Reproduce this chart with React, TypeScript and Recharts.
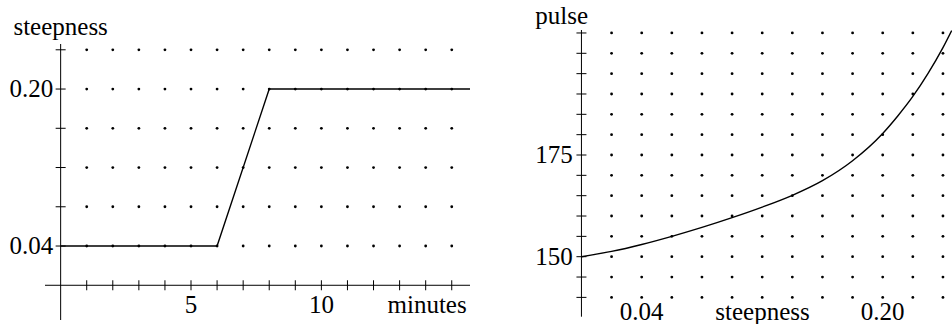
import React from 'react';
import { ComposedChart, Line, Scatter, XAxis, YAxis, ReferenceLine } from 'recharts';

// ---------- Left chart data: steepness vs minutes ----------
const minutes = [0, 6, 8, 15.7];
const steepnessOverTime = [0.04, 0.04, 0.2, 0.2];
const leftXTicks = [5, 10];
const leftXTickLabels = ['5', '10'];
const leftYTicks = [0.04, 0.2];
const leftYTickLabels = ['0.04', '0.20'];
const leftXMarks = [1, 2, 3, 4, 5, 6, 7, 8, 9, 10, 11, 12, 13, 14, 15];
const leftYMarks = [0.04, 0.08, 0.12, 0.16, 0.2, 0.24];
const leftXDomain = [-0.6, 15.7];
const leftYDomain = [-0.0354, 0.2459];

// ---------- Right chart data: pulse vs steepness ----------
const steepness = [0, 0.02, 0.04, 0.06, 0.08, 0.1, 0.12, 0.14, 0.16, 0.18, 0.2, 0.21, 0.22, 0.23, 0.24, 0.2458];
const pulse = [150, 151.3, 153.0, 155.0, 157.2, 159.6, 162.2, 165.1, 168.7, 173.6, 180.3, 184.6, 189.4, 195.0, 201.4, 205.6];
const rightXTicks = [0.04, 0.2];
const rightXTickLabels = ['0.04', '0.20'];
const rightYTicks = [150, 175];
const rightYTickLabels = ['150', '175'];
const rightXMarks = [0.02, 0.04, 0.06, 0.08, 0.1, 0.12, 0.14, 0.16, 0.18, 0.2, 0.22, 0.24];
const rightYMarks = [140, 145, 150, 155, 160, 165, 170, 175, 180, 185, 190, 195, 200, 205];
const rightXDomain = [0, 0.246];
const rightYDomain = [135.25, 205.73];

// ---------- derived tables ----------
const leftLine = minutes.map((m, i) => ({ x: m, y: steepnessOverTime[i] }));
const leftDots = leftXMarks.flatMap((x) => leftYMarks.map((y) => ({ x, y })));
const leftXTickMarks = leftXMarks.map((x) => ({ x, y: 0 }));
const leftYTickMarks = leftYMarks.map((y) => ({ x: 0, y }));

const rightLine = steepness.map((s, i) => ({ x: s, y: pulse[i] }));
const rightDots = rightXMarks.flatMap((x) => rightYMarks.map((y) => ({ x, y })));
const rightYTickMarks = rightYMarks.map((y) => ({ x: 0, y }));

const FONT = '"Liberation Serif", "Times New Roman", serif';
const FS = 25;
const INK = '#000';

const DotShape = (p: any) => <circle cx={p.cx} cy={p.cy} r={1.4} fill={INK} />;
const HMark = (p: any) => (
  <line x1={p.cx - 5} x2={p.cx + 5} y1={p.cy} y2={p.cy} stroke={INK} strokeWidth={1} />
);
const VMark = (p: any) => (
  <line x1={p.cx} x2={p.cx} y1={p.cy - 5} y2={p.cy + 5} stroke={INK} strokeWidth={1} />
);

const makeXTick = (ticks: number[], labels: string[], dy: number) => (p: any) => {
  const i = ticks.findIndex((t) => Math.abs(t - p.payload.value) < 1e-9);
  return (
    <text x={p.x} y={p.y + dy} textAnchor="middle" fontFamily={FONT} fontSize={FS} fill={INK}>
      {i >= 0 ? labels[i] : ''}
    </text>
  );
};
const makeYTick = (ticks: number[], labels: string[], dx: number) => (p: any) => {
  const i = ticks.findIndex((t) => Math.abs(t - p.payload.value) < 1e-9);
  return (
    <text x={p.x + dx} y={p.y + 8} textAnchor="end" fontFamily={FONT} fontSize={FS} fill={INK}>
      {i >= 0 ? labels[i] : ''}
    </text>
  );
};

function LeftChart() {
  return (
    <ComposedChart width={480} height={324} margin={{ top: 44, right: 10, bottom: 3, left: 44 }}>
      <XAxis
        type="number"
        dataKey="x"
        domain={leftXDomain}
        ticks={leftXTicks}
        height={1}
        axisLine={false}
        tickLine={false}
        tickSize={0}
        tickMargin={0}
        interval={0}
        tick={makeXTick(leftXTicks, leftXTickLabels, -7)}
      />
      <YAxis
        type="number"
        dataKey="y"
        domain={leftYDomain}
        ticks={leftYTicks}
        width={1}
        axisLine={false}
        tickLine={false}
        tickSize={0}
        tickMargin={0}
        interval={0}
        tick={makeYTick(leftYTicks, leftYTickLabels, 8.3)}
      />
      <ReferenceLine
        y={0}
        stroke={INK}
        strokeWidth={1}
        label={{
          content: (p: any) => (
            <text
              x={p.viewBox.x + p.viewBox.width - 3.3}
              y={p.viewBox.y + 28}
              textAnchor="end"
              fontFamily={FONT}
              fontSize={FS}
              fill={INK}
            >
              minutes
            </text>
          ),
        }}
      />
      <ReferenceLine
        x={0}
        stroke={INK}
        strokeWidth={1}
        label={{
          content: (p: any) => (
            <text x={p.viewBox.x} y={p.viewBox.y - 9} textAnchor="middle" fontFamily={FONT} fontSize={FS} fill={INK}>
              steepness
            </text>
          ),
        }}
      />
      <Scatter data={leftDots} shape={DotShape} isAnimationActive={false} />
      <Scatter data={leftXTickMarks} shape={VMark} isAnimationActive={false} />
      <Scatter data={leftYTickMarks} shape={HMark} isAnimationActive={false} />
      <Line
        data={leftLine}
        dataKey="y"
        type="linear"
        stroke={INK}
        strokeWidth={1.4}
        dot={false}
        activeDot={false}
        isAnimationActive={false}
      />
    </ComposedChart>
  );
}

function RightChart() {
  return (
    <ComposedChart width={472} height={324} margin={{ top: 30, right: 0, bottom: 6.3, left: 100.45 }}>
      <XAxis
        type="number"
        dataKey="x"
        domain={rightXDomain}
        ticks={rightXTicks}
        height={1}
        axisLine={false}
        tickLine={false}
        tickSize={0}
        tickMargin={0}
        interval={0}
        tick={makeXTick(rightXTicks, rightXTickLabels, 2.8)}
        label={{
          content: (p: any) => (
            <text
              x={p.viewBox.x + p.viewBox.width * 0.4886}
              y={p.viewBox.y + 2.8}
              textAnchor="middle"
              fontFamily={FONT}
              fontSize={FS}
              fill={INK}
            >
              steepness
            </text>
          ),
        }}
      />
      <YAxis
        type="number"
        dataKey="y"
        domain={rightYDomain}
        ticks={rightYTicks}
        width={1}
        axisLine={false}
        tickLine={false}
        tickSize={0}
        tickMargin={0}
        interval={0}
        tick={makeYTick(rightYTicks, rightYTickLabels, -8.7)}
      />
      <ReferenceLine
        x={0}
        stroke={INK}
        strokeWidth={1}
        label={{
          content: (p: any) => (
            <text x={p.viewBox.x - 19.7} y={p.viewBox.y - 6} textAnchor="middle" fontFamily={FONT} fontSize={FS} fill={INK}>
              pulse
            </text>
          ),
        }}
      />
      <Scatter data={rightDots} shape={DotShape} isAnimationActive={false} />
      <Scatter data={rightYTickMarks} shape={HMark} isAnimationActive={false} />
      <Line
        data={rightLine}
        dataKey="y"
        type="monotone"
        stroke={INK}
        strokeWidth={1.4}
        dot={false}
        activeDot={false}
        isAnimationActive={false}
      />
    </ComposedChart>
  );
}

export default function App() {
  return (
    <div style={{ position: 'absolute', left: 0, top: 0, width: 952, height: 324, background: '#fff', overflow: 'hidden' }}>
      <div style={{ position: 'absolute', left: 0, top: 0 }}>
        <LeftChart />
      </div>
      <div style={{ position: 'absolute', left: 480, top: 0 }}>
        <RightChart />
      </div>
    </div>
  );
}
